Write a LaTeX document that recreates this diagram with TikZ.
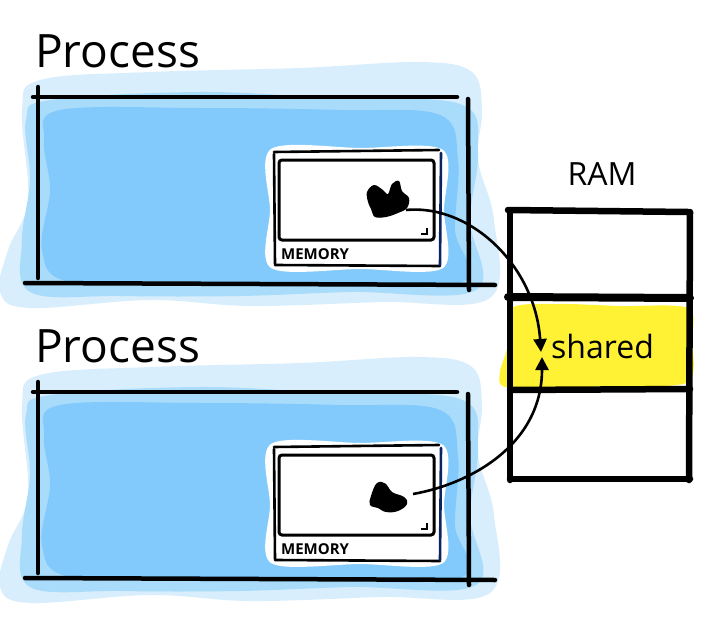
\documentclass[tikz,border=0pt]{standalone}
\usepackage{fontspec}
\setmainfont{Open Sans}
\usetikzlibrary{arrows.meta}
\definecolor{blueL}{HTML}{D8EEFC}
\definecolor{blueM}{HTML}{A9DCFB}
\definecolor{blueD}{HTML}{82CAFC}
\definecolor{ramY}{HTML}{FFF133}
\definecolor{navy}{HTML}{0B2460}
\begin{document}
\begin{tikzpicture}[x=1pt,y=-1pt,
  hand/.style={line width=4.5pt,line cap=round},
  ramline/.style={line width=6.5pt,line cap=round},
  memline/.style={line width=2.6pt,line cap=round},
  link/.style={line width=2.6pt,-{Triangle[length=13pt,width=13pt]}},
  proclabel/.style={font=\fontsize{46}{50}\selectfont,anchor=base west,inner sep=0pt},
  memlabel/.style={font=\bfseries\fontsize{15}{16}\selectfont,anchor=base west,inner sep=0pt},
  inklabel/.style={font=\fontsize{32}{36}\selectfont,inner sep=0pt}]
\useasboundingbox (0,0) rectangle (718,626);

\foreach \pre/\off in {t/0,b/295}{
\begin{scope}[yshift=-\off pt, name prefix=\pre-]
  % washes
  \fill[blueL] plot[smooth cycle,tension=0.6] coordinates {(40,80) (150,72) (300,68) (420,62) (472,72) (482,110) (478,160) (494,220) (490,298) (380,302) (250,306) (150,300) (30,308) (0,292) (8,250) (28,200) (22,110)};
  \fill[blueM] plot[smooth cycle,tension=0.6] coordinates {(50,100) (200,92) (330,98) (460,104) (478,150) (470,220) (476,290) (350,292) (240,296) (120,296) (30,292) (22,240) (30,180) (26,120)};
  \fill[blueD] plot[smooth cycle,tension=0.6] coordinates {(60,110) (200,108) (340,110) (440,115) (458,160) (455,230) (462,282) (320,286) (200,284) (70,282) (42,250) (50,190) (44,140)};
  % memory window
  \fill[white] plot[smooth cycle,tension=0.5] coordinates {(271,149) (360,148) (443,150) (444,210) (443,268) (360,269) (271,268) (270,210)};
  \draw[memline] (274,152) -- (439,150);
  \draw[memline] (274,154) -- (275,264);
  \draw[memline] (275,265) -- (440,266);
  \draw[memline,navy] (441,153) -- (440,265);
  \draw[line width=3pt,rounded corners=3pt] (279,160) rectangle (434,240);
  \draw[line width=2pt] (427,228) -- (427,234) -- (421,234);
  \node[memlabel] (mem) at (281,259) {MEMORY};
  % frame
  \draw[hand] (33,97) -- (457,97);
  \draw[hand] (38,87) -- (38,278);
  \draw[hand] (468,99) -- (469,290);
  \draw[hand] (25,283) -- (495,285);
  \node[proclabel] (label) at (35,67) {Process};
\end{scope}}

% blobs
\fill plot[smooth cycle,tension=0.6] coordinates {(367,192) (374,185) (383,190) (388,194) (392,184) (399,181) (402,191) (409,198) (407,208) (398,213) (386,217) (375,217) (371,209) (368,202)};
\coordinate (t-blob) at (406,210);
\fill plot[smooth cycle,tension=0.7] coordinates {(377,483) (386,484) (392,492) (404,497) (407,504) (398,511) (386,512) (378,508) (370,505) (371,496)};
\coordinate (b-blob) at (413,494);

% RAM
\fill[ramY] plot[smooth cycle,tension=0.5] coordinates {(512,308) (560,304) (620,306) (688,308) (692,340) (688,382) (620,386) (560,388) (505,387) (500,372) (508,345)};
\node[inklabel] (ram) at (602,174) {RAM};
\node[inklabel,anchor=west] (shared) at (551,346) {shared};
\draw[ramline] (508,210) -- (688,212);
\draw[ramline] (510,212) -- (510,480);
\draw[ramline] (690,212) -- (689,480);
\draw[line width=8pt,line cap=round] (508,297) -- (690,298);
\draw[ramline] (510,390) -- (690,389);
\draw[ramline] (510,479) -- (690,479);
\coordinate (in1) at (541,352);
\coordinate (in2) at (542,357);

% links
\draw[link] (t-blob) .. controls (470,204) and (535,265) .. (in1);
\draw[link] (b-blob) .. controls (470,484) and (542,445) .. (in2);
\end{tikzpicture}
\end{document}
